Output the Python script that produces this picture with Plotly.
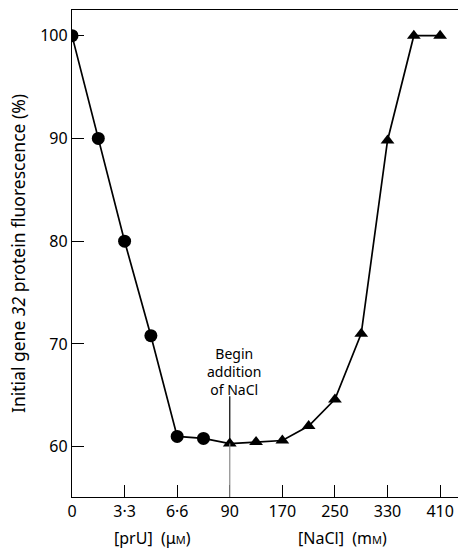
import plotly.graph_objects as go

# Axis layout: prU concentrations on the first part, NaCl on the second
tick_labels = ["0", "3·3", "6·6", "90", "170", "250", "330", "410"]
tick_pos = list(range(len(tick_labels)))

# pr U titration (uM) and fluorescence (%)
pru_conc = [0, 1.65, 3.3, 4.95, 6.6, 8.25]
pru_fluor = [100, 90, 80, 70.8, 61.0, 60.8]

# NaCl additions (mM) and fluorescence (%)
nacl_conc = [90, 130, 170, 210, 250, 290, 330, 370, 410]
nacl_fluor = [60.3, 60.45, 60.6, 62.0, 64.6, 71.0, 89.8, 100, 100]


def pru_to_axis(c):
    return c / 3.3


def nacl_to_axis(c):
    return 3 + (c - 90) / 80.0


xa = [pru_to_axis(c) for c in pru_conc]
xb = [nacl_to_axis(c) for c in nacl_conc]

font_family = "'Noto Sans', 'Liberation Sans', sans-serif"

fig = go.Figure()

# continuous connecting line through both series
fig.add_trace(go.Scatter(
    x=xa + xb, y=pru_fluor + nacl_fluor, mode="lines",
    line=dict(color="black", width=1.7), hoverinfo="skip", showlegend=False,
))
fig.add_trace(go.Scatter(
    x=xa, y=pru_fluor, mode="markers",
    marker=dict(symbol="circle", size=13, color="black"), showlegend=False,
))
fig.add_trace(go.Scatter(
    x=xb, y=nacl_fluor, mode="markers",
    marker=dict(symbol="triangle-up", size=12, color="black"), showlegend=False,
))

x_start = nacl_to_axis(90)
# marker line for the start of NaCl addition
fig.add_shape(type="line", xref="x", yref="y", x0=x_start, x1=x_start,
              y0=64.9, y1=nacl_fluor[0], line=dict(color="black", width=1.2))
fig.add_shape(type="line", xref="x", yref="y", x0=x_start, x1=x_start,
              y0=nacl_fluor[0], y1=55.1, line=dict(color="#8a8a8a", width=1.2))

fig.add_annotation(x=x_start + 0.085, y=67.3, xref="x", yref="y",
                   text="Begin<br>addition<br>of NaCl", showarrow=False,
                   font=dict(size=14, color="black", family=font_family),
                   align="center")

# axis titles under the two parts of the x axis
fig.add_annotation(x=1.53, y=-0.085, xref="x", yref="paper",
                   text="[prU]  (\u03bc<span style='font-size:11px'>M</span>)",
                   showarrow=False, yanchor="middle",
                   font=dict(size=16, color="black", family=font_family))
fig.add_annotation(x=5.14, y=-0.085, xref="x", yref="paper",
                   text="[NaCl]  (m<span style='font-size:11px'>M</span>)",
                   showarrow=False, yanchor="middle",
                   font=dict(size=16, color="black", family=font_family))

fig.update_layout(
    width=462, height=548,
    margin=dict(l=72, r=4, t=10, b=51),
    paper_bgcolor="white", plot_bgcolor="white",
    font=dict(family=font_family, size=16, color="black"),
    showlegend=False,
    xaxis=dict(
        range=[0, 7.34], tickmode="array", tickvals=tick_pos, ticktext=tick_labels,
        ticks="inside", ticklen=12, tickwidth=1, tickcolor="black",
        showline=True, linecolor="black", linewidth=1.3, mirror=True,
        showgrid=False, zeroline=False, tickfont=dict(size=16),
    ),
    yaxis=dict(
        range=[55.1, 102.5], tickmode="array", tickvals=[60, 70, 80, 90, 100],
        ticks="inside", ticklen=12, tickwidth=1, tickcolor="black",
        showline=True, linecolor="black", linewidth=1.3,
        showgrid=False, zeroline=False, tickfont=dict(size=16),
        title=dict(text="Initial gene <i>32</i> protein fluorescence (%)",
                   font=dict(size=17.5), standoff=10),
    ),
)

fig.write_html("out.html")
